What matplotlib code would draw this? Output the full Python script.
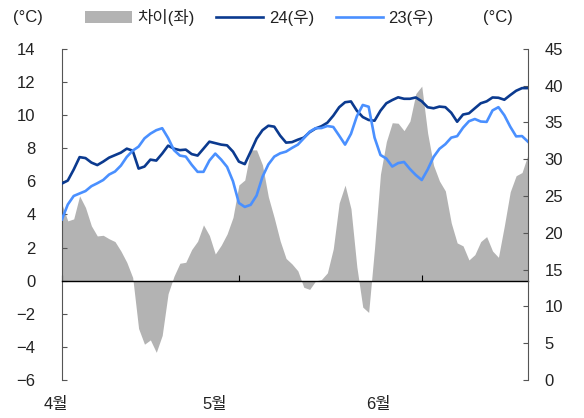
import numpy as np
import pandas as pd
import matplotlib
matplotlib.use("Agg")
import matplotlib.pyplot as plt

plt.rcParams['font.family'] = ['Liberation Sans', 'Noto Sans CJK KR']
plt.rcParams['axes.unicode_minus'] = True

# daily series, 2024-04-01 .. 2024-06-19
dates = pd.date_range("2024-04-01", periods=80, freq="D")

temp24 = [26.70, 27.11, 28.60, 30.29, 30.16, 29.55, 29.21, 29.68, 30.22, 30.56,
          30.90, 31.44, 31.17, 28.73, 29.01, 29.95, 29.82, 30.77, 31.85, 31.44,
          31.24, 31.31, 30.70, 30.50, 31.44, 32.39, 32.19, 31.99, 31.89, 31.04,
          29.68, 29.34, 31.04, 32.80, 33.95, 34.56, 34.43, 33.21, 32.26, 32.33,
          32.66, 32.94, 33.68, 34.18, 34.49, 34.97, 35.92, 37.07, 37.75, 37.86,
          36.60, 35.74, 35.34, 35.24, 36.60, 37.61, 38.05, 38.42, 38.22, 38.22,
          38.40, 37.88, 37.07, 36.93, 37.16, 37.08, 36.32, 35.10, 36.08, 36.24,
          36.93, 37.61, 37.87, 38.40, 38.36, 38.09, 38.72, 39.31, 39.67, 39.67]

temp23 = [21.82, 23.85, 25.01, 25.35, 25.68, 26.34, 26.74, 27.18, 27.92, 28.33,
          29.14, 30.32, 31.17, 31.72, 32.84, 33.48, 33.95, 34.22, 32.89, 31.24,
          30.50, 30.36, 29.25, 28.29, 28.29, 29.82, 30.77, 29.95, 28.96, 27.01,
          24.06, 23.52, 23.81, 25.07, 27.61, 29.30, 30.36, 30.81, 31.04, 31.54,
          31.99, 32.85, 33.75, 34.22, 34.24, 34.52, 34.39, 33.21, 31.99, 33.45,
          35.85, 37.38, 37.14, 32.94, 30.58, 30.09, 29.01, 29.48, 29.63, 28.67,
          27.85, 27.18, 28.60, 30.31, 31.42, 32.05, 32.94, 33.14, 34.29, 35.17,
          35.47, 35.13, 35.08, 36.64, 37.08, 35.98, 34.43, 33.11, 33.15, 32.39]

diff = [4.63, 3.61, 3.73, 5.12, 4.42, 3.31, 2.70, 2.74, 2.53, 2.36,
        1.79, 1.11, 0.19, -2.89, -3.84, -3.58, -4.33, -3.31, -0.79, 0.27,
        1.05, 1.11, 1.88, 2.38, 3.37, 2.73, 1.61, 2.14, 2.82, 3.82,
        5.78, 6.08, 7.90, 7.90, 6.99, 5.06, 3.79, 2.40, 1.34, 1.01,
        0.59, -0.40, -0.53, -0.02, 0.07, 0.47, 1.92, 4.69, 5.77, 4.35,
        0.83, -1.60, -1.92, 1.98, 6.43, 8.40, 9.54, 9.51, 9.06, 9.64,
        11.30, 11.75, 8.91, 6.97, 6.02, 5.42, 3.49, 2.28, 2.10, 1.25,
        1.57, 2.36, 2.66, 1.79, 1.41, 3.31, 5.37, 6.34, 6.53, 7.60]

month_ticks = pd.to_datetime(["2024-04-01", "2024-05-01", "2024-06-01"])
month_labels = ["4월", "5월", "6월"]
month_label_pos = [-0.013, 0.328, 0.680]

gray = "#b3b3b3"
dark = "#0b3a8f"
light = "#4a90ff"
axis_col = "#555555"

fig = plt.figure(figsize=(5.84, 4.18), dpi=100)
ax = fig.add_axes([0.106, 0.091, 0.798, 0.792])
ax2 = ax.twinx()

ax.fill_between(dates, 0, diff, color=gray, lw=0, zorder=1)
ax.set_ylim(-6, 14)
ax.set_yticks(np.arange(-6, 15, 2))
ax.set_xlim(dates[0], dates[-1])

ax2.plot(dates, temp24, color=dark, lw=1.9)
ax2.plot(dates, temp23, color=light, lw=1.9)
ax2.set_ylim(0, 45)
ax2.set_yticks(np.arange(0, 46, 5))

for a in (ax, ax2):
    a.spines['top'].set_visible(False)
    a.spines['bottom'].set_visible(False)
    a.spines['left'].set_color(axis_col)
    a.spines['right'].set_color(axis_col)

ax.spines['right'].set_visible(False)
ax2.spines['left'].set_visible(False)

ax.spines['bottom'].set_visible(True)
ax.spines['bottom'].set_position(('data', 0))
ax.spines['bottom'].set_color('black')
ax.spines['bottom'].set_linewidth(1.0)
ax.spines['bottom'].set_zorder(3)

ax.set_xticks(month_ticks)
ax.set_xticklabels([])
ax.tick_params(axis='x', direction='in', length=4, color='black')
ax.tick_params(axis='y', direction='in', length=3.5, color=axis_col, pad=19, labelsize=12, labelcolor='#222222')
ax2.tick_params(axis='y', direction='in', length=3.5, color=axis_col, pad=12, labelsize=12, labelcolor='#222222')

for pos, lab in zip(month_label_pos, month_labels):
    ax.text(pos, -0.075, lab, transform=ax.transAxes, ha='center', va='center',
            fontsize=12, color='#222222')

fig.text(0.047, 0.958, "(°C)", ha='center', va='center', fontsize=12, color='#222222')
fig.text(0.853, 0.958, "(°C)", ha='center', va='center', fontsize=12, color='#222222')

from matplotlib.patches import Patch
from matplotlib.lines import Line2D
handles = [Patch(facecolor=gray, edgecolor='none'),
           Line2D([], [], color=dark, lw=1.9),
           Line2D([], [], color=light, lw=1.9)]
fig.legend(handles, ["차이(좌)", "24(우)", "23(우)"], loc='center',
           bbox_to_anchor=(0.444, 0.959), ncol=3, frameon=False, fontsize=12,
           handlelength=2.8, handleheight=0.7, handletextpad=0.35, columnspacing=1.3,
           labelcolor='#222222')

fig.savefig("out.png", dpi=100)
